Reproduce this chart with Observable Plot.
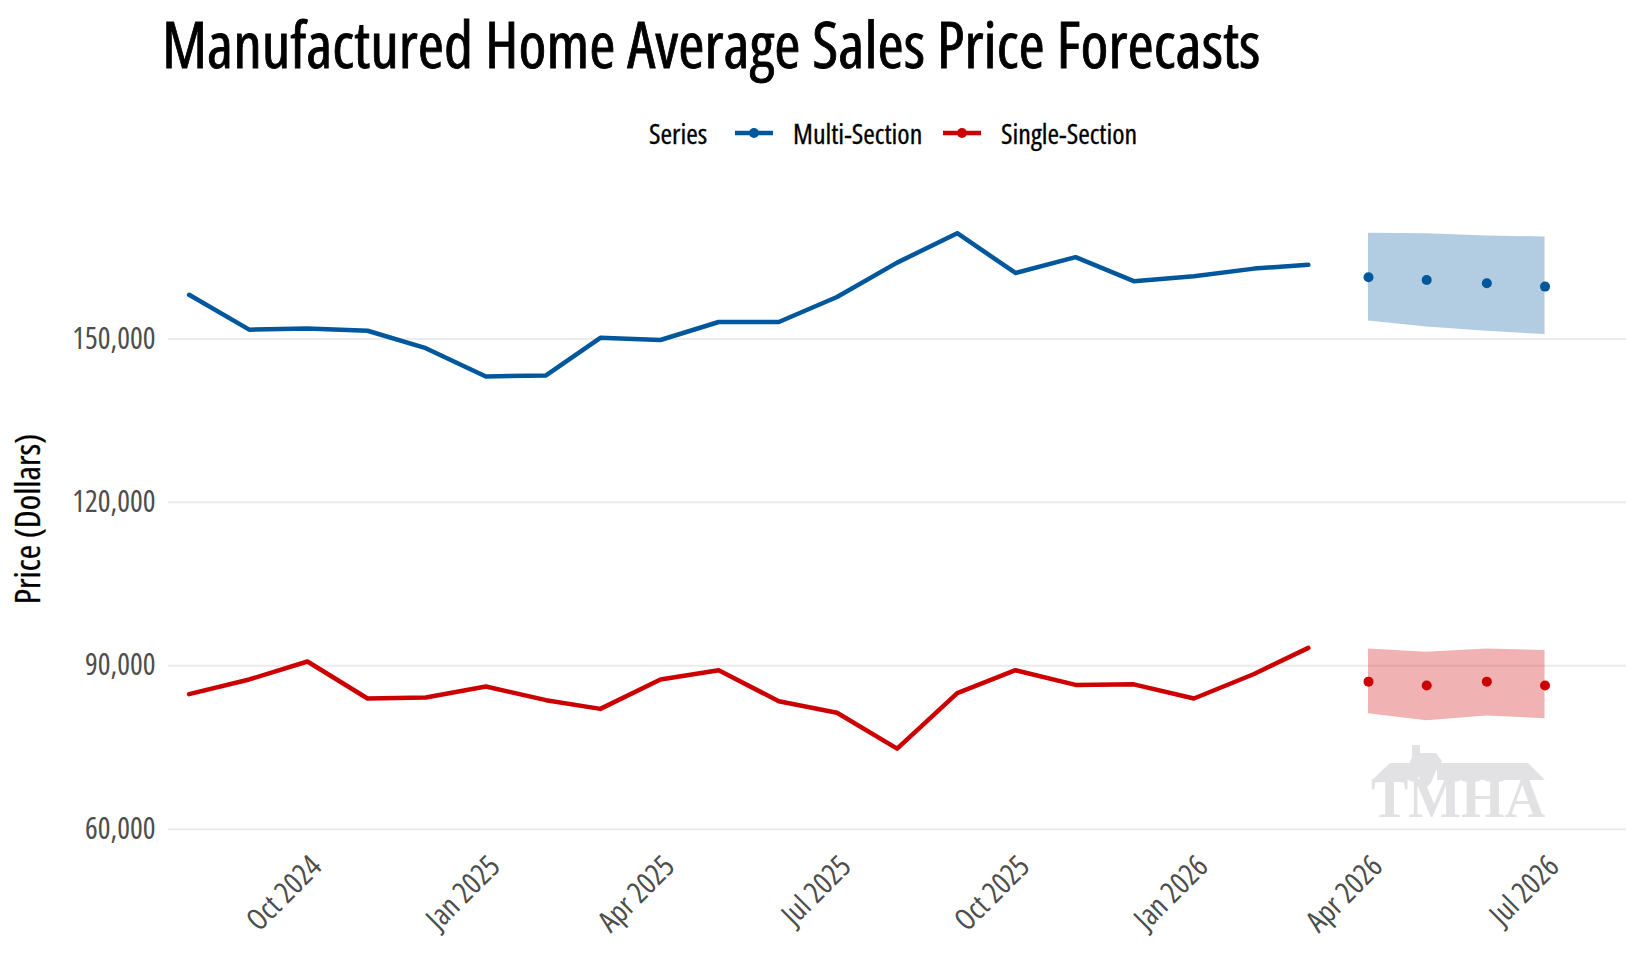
<!DOCTYPE html>
<html>
<head>
<meta charset="utf-8">
<script src="https://cdn.jsdelivr.net/npm/d3@7"></script>
<script src="https://cdn.jsdelivr.net/npm/@observablehq/plot@0.6"></script>
<style>
  html, body { margin: 0; padding: 0; background: #fff; }
  body { width: 1643px; height: 960px; position: relative; overflow: hidden;
         font-family: "Open Sans", sans-serif; font-stretch: condensed; }
  svg, svg text { font-stretch: condensed; }
  #title { position: absolute; left: 162px; top: 0px; font-size: 63.5px; line-height: normal; color: #000; white-space: nowrap; -webkit-text-stroke: 0.8px #000; }
  .lg { position: absolute; top: 113px; height: 40px; display: flex; align-items: center; font-size: 28px; color: #000; white-space: nowrap; -webkit-text-stroke: 0.3px #000; }
  #chart { position: absolute; left: 0; top: 160px; }
</style>
</head>
<body>
<div id="title">Manufactured Home Average Sales Price Forecasts</div>
<div id="chart"></div>
<script>
// ---- data ----
const months = ["2024-08","2024-09","2024-10","2024-11","2024-12","2025-01","2025-02","2025-03","2025-04","2025-05","2025-06","2025-07","2025-08","2025-09","2025-10","2025-11","2025-12","2026-01","2026-02","2026-03"];
const multiSection = [158100,151700,151900,151500,148300,143100,143300,150200,149800,153100,153100,157700,164000,169400,162100,165000,160600,161500,162900,163600];
const singleSection = [84800,87500,90800,84000,84200,86200,83700,82100,87500,89200,83500,81400,74800,85000,89200,86500,86600,84000,88500,93300];

const forecastMonths = ["2026-04","2026-05","2026-06","2026-07"];
const multiForecast = [161300,160800,160200,159600];
const multiLow = [153300,152200,151400,150800];
const multiHigh = [169400,169300,168900,168700];
const singleForecast = [87100,86400,87100,86400];
const singleLow = [81200,79900,80800,80300];
const singleHigh = [93100,92500,93100,92800];

const seriesNames = ["Multi-Section","Single-Section"];
const seriesColors = ["#00579c","#cc0000"];
const legendTitle = "Series";
const yTicks = [60000, 90000, 120000, 150000];
const xTickLabels = ["2024-10","2025-01","2025-04","2025-07","2025-10","2026-01","2026-04","2026-07"];
const yLabel = "Price (Dollars)";
const watermark = "TMHA";

// ---- build tables ----
const parse = d3.utcParse("%Y-%m");
const hist = [];
months.forEach((m, i) => {
  hist.push({date: parse(m), value: multiSection[i], series: seriesNames[0]});
  hist.push({date: parse(m), value: singleSection[i], series: seriesNames[1]});
});
const fc = [];
forecastMonths.forEach((m, i) => {
  fc.push({date: parse(m), value: multiForecast[i], lo: multiLow[i], hi: multiHigh[i], series: seriesNames[0]});
  fc.push({date: parse(m), value: singleForecast[i], lo: singleLow[i], hi: singleHigh[i], series: seriesNames[1]});
});

const day = 864e5;
const font = '"Open Sans", sans-serif';

const chart = Plot.plot({
  width: 1643,
  height: 800,
  marginLeft: 168,
  marginRight: 17,
  marginTop: 20,
  marginBottom: 120,
  style: {fontFamily: font, background: "#fff", fontStretch: "condensed", overflow: "visible"},
  x: {type: "utc", domain: [new Date(Date.UTC(2024,7,1) - 10.62*day), new Date(Date.UTC(2026,6,1) + 42*day)]},
  y: {domain: [57945, 179070]},
  color: {domain: seriesNames, range: seriesColors},
  marks: [
    Plot.gridY(yTicks, {stroke: "#ebebeb", strokeOpacity: 1, strokeWidth: 2}),
    Plot.axisY(yTicks, {tickSize: 0, tickPadding: 13, tickFormat: d3.format(","), fontSize: 30, fill: "#4d4d4d", label: null}),
    Plot.axisX(xTickLabels.map(parse), {tickSize: 0, tickPadding: 21, dx: 9, tickRotate: -45, tickFormat: d3.utcFormat("%b %Y"), fontSize: 30, fill: "#4d4d4d", label: null}),
    Plot.areaY(fc, {x: "date", y1: "lo", y2: "hi", fill: "series", fillOpacity: 0.3, z: "series"}),
    Plot.line(hist, {x: "date", y: "value", stroke: "series", strokeWidth: 4.5, z: "series"}),
    Plot.dot(fc, {x: "date", y: "value", fill: "series", r: 5})
  ]
});
document.getElementById("chart").appendChild(chart);

// y axis title
const svg = d3.select(chart);
svg.append("text")
  .attr("transform", "translate(31,359) rotate(-90)")
  .attr("text-anchor", "middle")
  .attr("dominant-baseline", "middle")
  .attr("font-size", 35)
  .attr("fill", "#000")
  .attr("stroke", "#000")
  .attr("stroke-width", 0.3)
  .text(yLabel);

// watermark (logo-like, light grey)
const wm = d3.select(chart).insert("g", ":first-child").attr("fill", "#e2e2e4");
const top0 = 763 - 160;
wm.append("polygon").attr("points", `1372,${top0+17} 1390,${top0} 1418,${top0} 1418,${top0+17}`);
wm.append("polygon").attr("points", `1437,${top0+17} 1437,${top0} 1528,${top0} 1545,${top0+17}`);
wm.append("polygon").attr("points", `1412,${top0-18} 1420,${top0-18} 1420,${top0-10} 1436,${top0-10} 1442,${top0-2} 1436,${top0+8} 1431,${top0+20} 1425,${top0+26} 1419,${top0+14} 1407,${top0+6} 1412,${top0-6}`);
wm.append("text").attr("x", 1458).attr("y", 817 - 160).attr("text-anchor", "middle")
  .attr("font-family", '"Liberation Serif", "DejaVu Serif", serif').attr("font-weight", "bold")
  .attr("font-size", 56).style("font-stretch", "normal").text(watermark);

// legend
const legendItems = [{text: legendTitle, left: 649}];
seriesNames.forEach((name, i) => {
  legendItems.push({swatch: seriesColors[i], left: [735, 943][i]});
  legendItems.push({text: name, left: [793, 1001][i]});
});
legendItems.forEach(it => {
  const d = document.createElement("div");
  d.className = "lg";
  d.style.left = it.left + "px";
  if (it.text) d.textContent = it.text;
  else d.innerHTML = `<svg width="38" height="14"><line x1="0" x2="38" y1="7" y2="7" stroke="${it.swatch}" stroke-width="4.5"/><circle cx="19" cy="7" r="5" fill="${it.swatch}"/></svg>`;
  document.body.appendChild(d);
});
</script>
</body>
</html>
